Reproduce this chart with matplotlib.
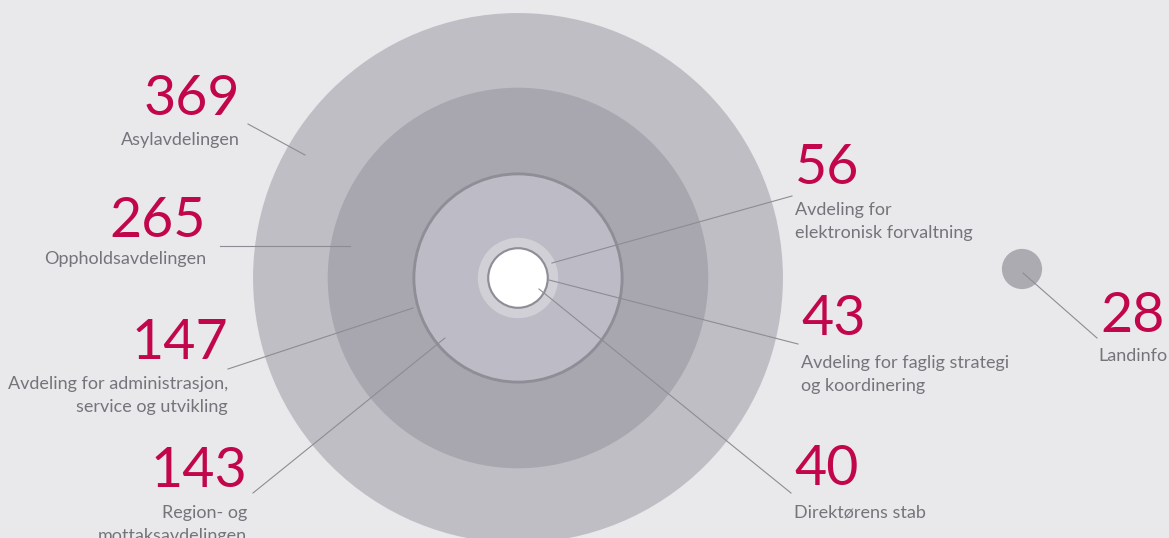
import matplotlib.pyplot as plt
from matplotlib.patches import Circle

# employees per department (nested circles, radius proportional to value)
departments = ['Asylavdelingen', 'Oppholdsavdelingen',
               'Avdeling for administrasjon,\nservice og utvikling',
               'Region- og\nmottaksavdelingen',
               'Avdeling for\nelektronisk forvaltning',
               'Avdeling for faglig strategi\nog koordinering',
               'Direktørens stab', 'Landinfo']
employees = [369, 265, 147, 143, 56, 43, 40, 28]

# layout (pixel coordinates)
SCALE = 0.718
main_center = (518, 278)
landinfo_center = (1022, 269)
circle_colors = ['#bfbec4', '#a8a6af', '#8f8d96', '#bdbbc5',
                 '#d1d0d6', '#8f8d96', '#ffffff', '#acabb1']
# text anchor x, number baseline y, label baseline y, alignment
text_pos = [(240, 115, 145, 'right'), (206, 237, 264, 'right'),
            (228, 359, 389, 'right'), (247, 487, 518, 'right'),
            (795, 184, 215, 'left'), (801, 335, 368, 'left'),
            (794, 485, 517, 'left'), (1133, 332, 361, 'center')]
leaders = [((248, 124), (305, 155)), ((220, 246), (350, 246)),
           ((228, 369), (413, 308)), ((253, 493), (445, 338)),
           ((792, 196), (552, 263)), ((798, 344), (549, 280)),
           ((791, 493), (539, 289)), ((1097, 338), (1023, 273))]

BG = '#e9e9eb'
NUM_COLOR = '#c2064c'
LABEL_COLOR = '#75747b'
LINE_COLOR = '#8d8c93'

fig = plt.figure(figsize=(11.69, 5.38), dpi=100, facecolor=BG)
ax = fig.add_axes([0, 0, 1, 1])
ax.set_facecolor(BG)
ax.set_xlim(0, 1169)
ax.set_ylim(538, 0)
ax.set_aspect('equal')
ax.axis('off')

for i, value in enumerate(employees):
    center = landinfo_center if departments[i] == 'Landinfo' else main_center
    ax.add_patch(Circle(center, SCALE * value, facecolor=circle_colors[i],
                        edgecolor='none', zorder=1 + i))

for (p0, p1) in leaders:
    ax.plot([p0[0], p1[0]], [p0[1], p1[1]], color=LINE_COLOR, lw=0.8, zorder=20)

for i, value in enumerate(employees):
    x, y_num, y_lab, ha = text_pos[i]
    ax.text(x, y_num, str(value), ha=ha, va='baseline', color=NUM_COLOR,
            fontsize=40, family='Lato', zorder=30)
    for j, line in enumerate(departments[i].split('\n')):
        ax.text(x, y_lab + 23 * j, line, ha=ha, va='baseline', color=LABEL_COLOR,
                fontsize=13, family='Lato', zorder=30)

plt.savefig('out.png', dpi=100, facecolor=BG)
